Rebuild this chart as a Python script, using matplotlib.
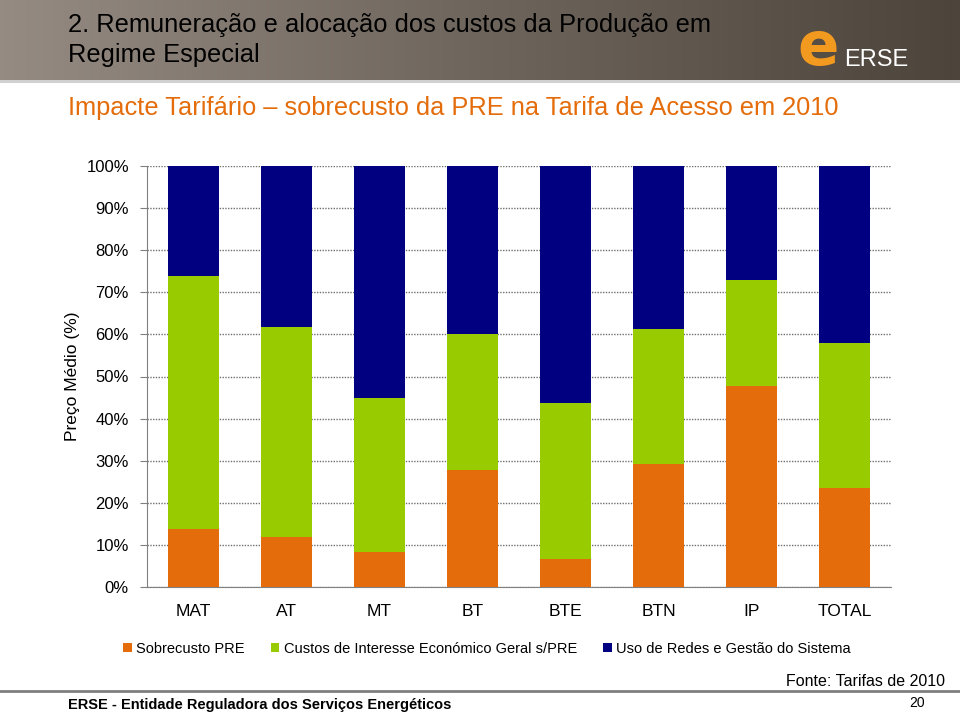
import matplotlib
matplotlib.use("Agg")
import matplotlib.pyplot as plt
import numpy as np
from matplotlib.patches import Rectangle
from matplotlib.colors import LinearSegmentedColormap

categories = ["MAT", "AT", "MT", "BT", "BTE", "BTN", "IP", "TOTAL"]
sobrecusto_pre = [13.8, 11.9, 8.4, 27.9, 6.6, 29.2, 47.7, 23.6]
cieg_s_pre = [60.0, 49.8, 36.5, 32.3, 37.1, 32.1, 25.2, 34.3]
uso_redes = [100 - a - b for a, b in zip(sobrecusto_pre, cieg_s_pre)]
yticks = [0, 10, 20, 30, 40, 50, 60, 70, 80, 90, 100]
ytick_labels = [f"{v}%" for v in yticks]
series_names = ["Sobrecusto PRE", "Custos de Interesse Económico Geral s/PRE",
                "Uso de Redes e Gestão do Sistema"]
colors = ["#E46C0A", "#99CC00", "#000080"]

plt.rcParams['font.family'] = ['Liberation Sans', 'DejaVu Sans']

fig = plt.figure(figsize=(9.6, 7.2), dpi=100)

# header band with gradient
hdr = fig.add_axes([0, 1 - 80/720, 1, 80/720])
grad = np.linspace(0, 1, 256).reshape(1, -1)
cmap = LinearSegmentedColormap.from_list("hdr", ["#958b83", "#6e655d", "#4d443c"])
hdr.imshow(grad, aspect="auto", cmap=cmap, extent=[0, 1, 0, 1])
hdr.set_xlim(0, 1); hdr.set_ylim(0, 1)
hdr.axis("off")
fig.add_artist(Rectangle((0, 1 - 83/720), 1, 3/720, transform=fig.transFigure,
                         color="#d0d0d0", lw=0))
fig.text(68/960, 1 - 25/720, "2. Remuneração e alocação dos custos da Produção em",
         fontsize=18.4, color="black", va="center")
fig.text(68/960, 1 - 55/720, "Regime Especial",
         fontsize=18.4, color="black", va="center")
# logo
fig.text(818/960, 1 - 48/720, "e", fontsize=44, fontweight="bold", color="#F29A1F",
         ha="center", va="center", family="DejaVu Sans")
fig.text(876/960, 1 - 60/720, "ERSE", fontsize=17, color="white",
         ha="center", va="center")

fig.text(68/960, 1 - 108/720, "Impacte Tarifário – sobrecusto da PRE na Tarifa de Acesso em 2010",
         fontsize=18.3, color="#E46C0A", va="center")

# chart
ax = fig.add_axes([147/960, 1 - 587/720, 744/960, 421/720])
x = np.arange(len(categories))
bottom = np.zeros(len(categories))
for vals, c, n in zip([sobrecusto_pre, cieg_s_pre, uso_redes], colors, series_names):
    ax.bar(x, vals, bottom=bottom, width=0.55, color=c, label=n, zorder=3)
    bottom += np.array(vals)
ax.set_xlim(-0.5, len(categories) - 0.5)
ax.set_ylim(0, 100)
ax.set_yticks(yticks)
ax.set_yticklabels(ytick_labels, fontsize=12)
ax.set_xticks(x)
ax.set_xticklabels(categories, fontsize=12.5)
ax.tick_params(axis="x", length=0, pad=12)
ax.tick_params(axis="y", length=5, color="#808080", direction="out", pad=8)
ax.yaxis.grid(True, linestyle=(0, (1, 1)), color="#707070", linewidth=1.0, zorder=0)
for s in ["top", "right"]:
    ax.spines[s].set_visible(False)
ax.spines["left"].set_color("#808080")
ax.spines["bottom"].set_color("#808080")
ax.set_ylabel("Preço Médio (%)", fontsize=12.5)
ax.yaxis.set_label_coords(-0.09, 0.5)

fig.legend(loc="center", bbox_to_anchor=(487/960, 1 - 649/720), ncol=3,
           frameon=False, prop={"size": 10.5},
           handlelength=0.6, handleheight=0.6,
           handletextpad=0.3, columnspacing=1.8)

# footer
fig.add_artist(plt.Line2D([0, 1], [1 - 691/720, 1 - 691/720], transform=fig.transFigure,
                          color="#7f7f7f", lw=2))
fig.text(945/960, 1 - 682/720, "Fonte: Tarifas de 2010", fontsize=11.5,
         ha="right", va="center")
fig.text(68/960, 1 - 705/720, "ERSE - Entidade Reguladora dos Serviços Energéticos",
         fontsize=10.5, fontweight="bold", ha="left", va="center")
fig.text(925/960, 1 - 703/720, "20", fontsize=10, ha="right", va="center")

fig.savefig("out.png", dpi=100, facecolor="white")
